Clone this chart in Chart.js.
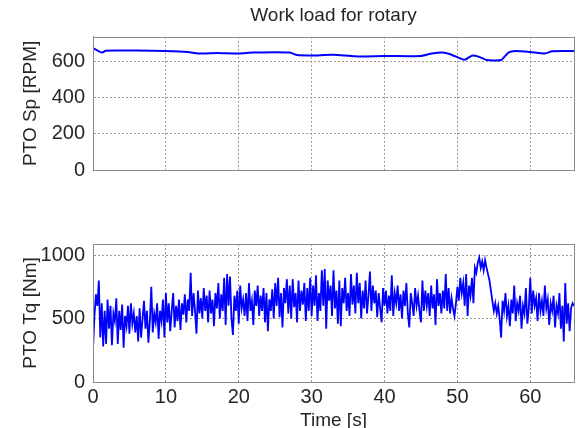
<!DOCTYPE html>
<html>
<head>
<meta charset="utf-8">
<script src="https://cdn.jsdelivr.net/npm/chart.js@4"></script>
<style>
  html, body { margin: 0; padding: 0; background: #fff; overflow: hidden; }
  #page { position: relative; width: 580px; height: 428px; }
  .panel { position: absolute; left: 0; width: 580px; }
  #topPanel { top: 0; height: 190px; }
  #bottomPanel { top: 200px; height: 240px; }
</style>
</head>
<body>
<div id="page">
  <div class="panel" id="topPanel"><canvas id="speedChart"></canvas></div>
  <div class="panel" id="bottomPanel"><canvas id="torqueChart"></canvas></div>
</div>
<script>
// PTO speed (upper plot)
const speedTime = [0, 0.8, 1.3, 1.7, 3, 6, 10, 13, 14.5, 17, 20, 22, 27, 28, 30, 33, 36, 40, 45, 46.5, 48, 49, 50.5, 51, 52, 53, 54, 56, 57, 58, 60, 62, 63, 66];
const speedRpm = [672, 655, 648, 658, 660, 659, 656, 651, 643, 646, 643, 648, 648, 634, 632, 636, 627, 629, 629, 643, 648, 639, 614, 608, 631, 624, 607, 607, 648, 656, 651, 643, 655, 656];

// PTO torque (lower plot), one sample every 0.2 s from 0 to 66 s
const torqueStep = 0.2;
const torqueNm = [
  258, 520, 690, 600, 800,
  350, 620, 280, 560, 300,
  650, 420, 600, 290, 540,
  480, 660, 300, 560, 410,
  610, 270, 520, 440, 600,
  380, 620, 460, 540, 390,
  520, 320, 580, 350, 500,
  640, 420, 560, 310, 480,
  750, 390, 540, 470, 620,
  340, 560, 480, 650, 350,
  700, 470, 620, 400, 560,
  700, 430, 600, 480, 650,
  410, 620, 530, 690, 470,
  650, 560, 860, 520, 700,
  560, 380, 720, 540, 660,
  500, 740, 560, 680, 470,
  720, 540, 650, 440, 700,
  580, 780, 500, 690, 560,
  820, 450, 850, 600, 830,
  500, 370, 680, 560, 720,
  460, 760, 580, 650, 520,
  700, 480, 780, 560, 640,
  450, 720, 600, 760, 520,
  680, 560, 740, 470, 700,
  400, 650, 560, 730, 500,
  780, 600, 820, 510, 700,
  430, 740, 620, 810, 540,
  760, 500, 810, 590, 700,
  470, 800, 560, 720, 610,
  780, 480, 740, 560, 820,
  520, 760, 600, 840, 480,
  700, 560, 880, 600, 890,
  420, 800, 640, 760, 520,
  880, 580, 720, 460, 800,
  440, 740, 620, 820, 560,
  700, 520, 850, 610, 760,
  540, 860, 620, 780, 500,
  720, 580, 800, 540, 680,
  870, 560, 760, 620, 720,
  510, 700, 580, 470, 740,
  600, 720, 540, 680, 560,
  840, 520, 700, 620, 760,
  560, 690, 500, 720, 600,
  780, 540, 430, 700, 620,
  520, 740, 600, 680, 560,
  470, 800, 560, 720, 600,
  700, 520, 760, 580, 690,
  450, 810, 600, 700, 540,
  720, 580, 850, 560, 740,
  540, 660, 580, 520, 620,
  750, 640, 820, 700, 780,
  600, 850, 520, 760, 680,
  820, 620, 900, 860, 940,
  980, 900, 950, 880, 960,
  900, 850, 800, 720, 640,
  560, 620, 540, 600, 500,
  350, 640, 560, 700, 520,
  600, 440, 650, 540, 760,
  480, 620, 560, 680, 420,
  600, 540, 740, 460, 580,
  820, 540, 720, 600, 660,
  480, 700, 560, 640, 520,
  760, 580, 650, 450, 620,
  560, 680, 430, 600, 540,
  700, 420, 600, 320, 780,
  460, 620, 400, 580, 620,
  600
];

const timeTicks = [0, 10, 20, 30, 40, 50, 60];
const speedTicks = [0, 200, 400, 600];
const torqueTicks = [0, 500, 1000];

const FONT = 'Liberation Sans, Arial, Helvetica, sans-serif';
const TEXT = '#262626';
const LINE = '#0000ff';

// draws the box round the axes, like matlab's "box on"
const frameBox = {
    id: 'frameBox',
    afterDraw(chart) {
        const { ctx, chartArea: a } = chart;
        ctx.save();
        ctx.strokeStyle = '#8a8a8a';
        ctx.lineWidth = 1;
        ctx.strokeRect(Math.round(a.left) + 0.5, Math.round(a.top) + 0.5,
            Math.round(a.right - a.left), Math.round(a.bottom - a.top));
        ctx.restore();
    }
};

function fixTicks(values) {
    return axis => { axis.ticks = values.map(v => ({ value: v })); };
}

function buildOptions(cfg) {
    return {
        responsive: true,
        maintainAspectRatio: false,
        animation: false,
        layout: { padding: cfg.padding },
        plugins: {
            legend: { display: false },
            tooltip: { enabled: false },
            title: cfg.title ? {
                display: true,
                fullSize: false,
                text: cfg.title,
                color: TEXT,
                font: { family: FONT, size: 19, weight: 'normal' },
                padding: { top: 4, bottom: 10 }
            } : { display: false }
        },
        scales: {
            x: {
                type: 'linear',
                min: 0,
                max: 66,
                afterBuildTicks: fixTicks(timeTicks),
                afterFit: s => { s.height = cfg.xHeight; },
                grid: { color: '#999', lineWidth: 1, drawTicks: false },
                border: { color: '#8a8a8a', width: 1, dash: [2, 2] },
                ticks: {
                    display: cfg.xLabels,
                    color: TEXT,
                    padding: 3,
                    maxRotation: 0,
                    font: { family: FONT, size: 20 },
                    callback: v => String(v)
                },
                title: {
                    display: cfg.xLabels,
                    text: 'Time [s]',
                    color: TEXT,
                    font: { family: FONT, size: 19 },
                    padding: { top: 0, bottom: 8 }
                }
            },
            y: {
                type: 'linear',
                min: 0,
                max: cfg.yMax,
                afterBuildTicks: fixTicks(cfg.yTicks),
                afterFit: s => { s.width = 93; },
                grid: { color: '#999', lineWidth: 1, drawTicks: false },
                border: { color: '#8a8a8a', width: 1, dash: [2, 2] },
                ticks: {
                    color: TEXT,
                    padding: 8,
                    font: { family: FONT, size: 20 },
                    callback: v => String(v)
                },
                title: {
                    display: true,
                    text: cfg.yTitle,
                    color: TEXT,
                    font: { family: FONT, size: 19 },
                    padding: { top: 19, bottom: 0 }
                }
            }
        }
    };
}

new Chart(document.getElementById('speedChart'), {
    type: 'line',
    data: {
        datasets: [{
            data: speedTime.map((t, i) => ({ x: t, y: speedRpm[i] })),
            borderColor: LINE,
            borderWidth: 2,
            pointRadius: 0,
            tension: 0.2
        }]
    },
    options: buildOptions({
        title: 'Work load for rotary',
        padding: { top: 0, right: 6, bottom: 0, left: 0 },
        xHeight: 13,
        xLabels: false,
        yMax: 735,
        yTicks: speedTicks,
        yTitle: 'PTO Sp [RPM]'
    }),
    plugins: [frameBox]
});

new Chart(document.getElementById('torqueChart'), {
    type: 'line',
    data: {
        datasets: [{
            data: torqueNm.map((v, i) => ({ x: i * torqueStep, y: v })),
            borderColor: LINE,
            borderWidth: 1.8,
            pointRadius: 0,
            tension: 0
        }]
    },
    options: buildOptions({
        title: null,
        padding: { top: 44, right: 6, bottom: 0, left: 0 },
        xHeight: 58,
        xLabels: true,
        yMax: 1087,
        yTicks: torqueTicks,
        yTitle: 'PTO Tq [Nm]'
    }),
    plugins: [frameBox]
});
</script>
</body>
</html>
